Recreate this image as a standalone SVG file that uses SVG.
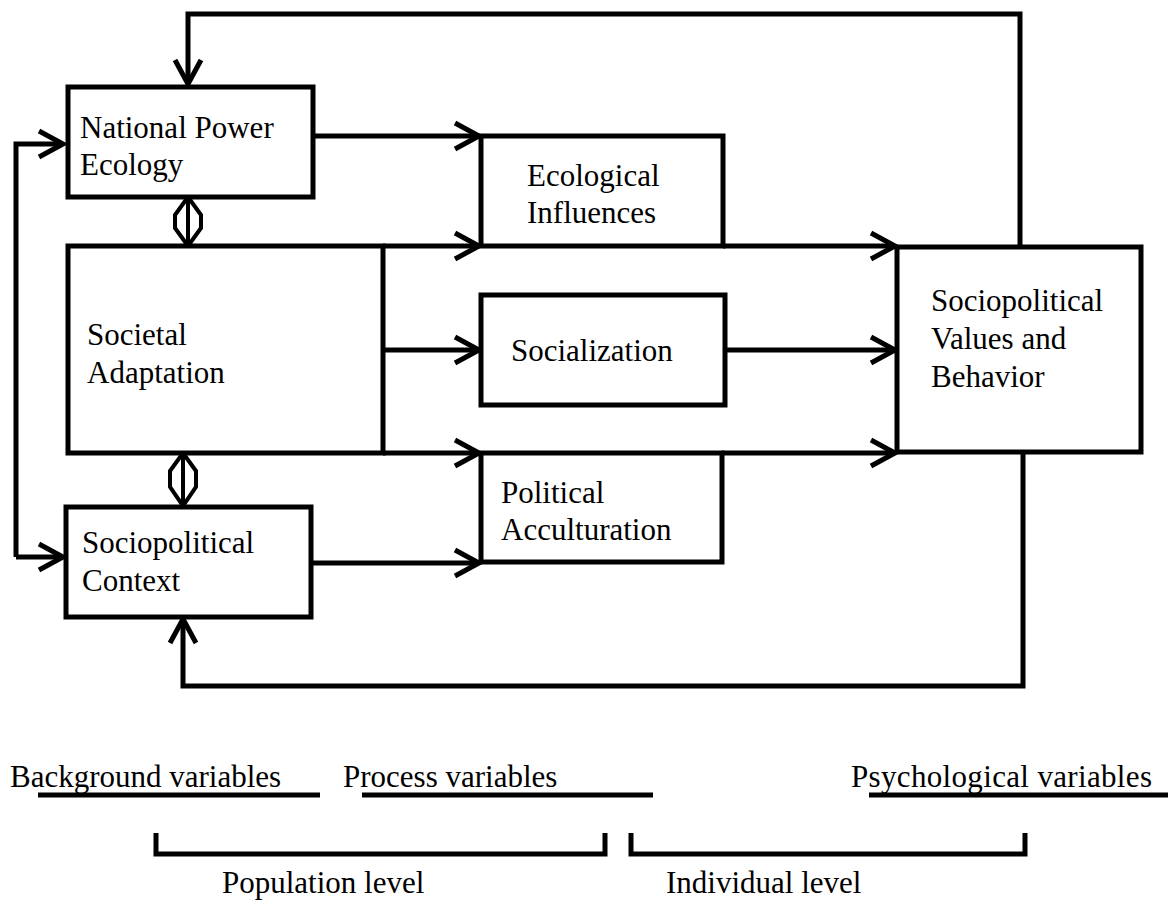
<svg xmlns="http://www.w3.org/2000/svg" width="1168" height="903" viewBox="0 0 1168 903">
<style>
.box{fill:#fff;stroke:#000;stroke-width:5}
.ln{fill:none;stroke:#000;stroke-width:5;stroke-linejoin:miter}
.arr{marker-end:url(#ah)}
.t{font-family:"Liberation Serif","Times New Roman",serif;font-size:31px;fill:#000}
.dbl{fill:none;stroke:#000;stroke-width:4;stroke-linejoin:miter}
</style>
<defs>
<marker id="ah" markerUnits="userSpaceOnUse" markerWidth="40" markerHeight="40" viewBox="-30 -20 40 40" refX="0" refY="0" orient="auto">
<path d="M-24 -13 L0 0 L-24 13" fill="none" stroke="#000" stroke-width="5"/>
</marker>
</defs>

<g id="connectors">
<!-- top feedback loop -->
<polyline class="ln arr" points="1020,247 1020,14 188,14 188,84"/>
<!-- bottom feedback loop -->
<polyline class="ln arr" points="1023,452 1023,686 183,686 183,619"/>
<!-- left loop -->
<polyline class="ln arr" points="16,557 16,144 63,144"/>
<polyline class="ln arr" points="16,557 63,557"/>
<!-- NPE to Ecological -->
<line class="ln arr" x1="313" y1="136" x2="479" y2="136"/>
<!-- Societal to process boxes -->
<line class="ln arr" x1="383" y1="246" x2="479" y2="246"/>
<line class="ln arr" x1="383" y1="350" x2="479" y2="350"/>
<line class="ln arr" x1="383" y1="453" x2="479" y2="453"/>
<!-- SC to PA -->
<line class="ln arr" x1="311" y1="563" x2="479" y2="563"/>
<!-- process to SV -->
<line class="ln arr" x1="723" y1="246" x2="895" y2="246"/>
<line class="ln arr" x1="725" y1="350" x2="895" y2="350"/>
<line class="ln arr" x1="722" y1="453" x2="895" y2="453"/>
<!-- double arrows -->
<path class="dbl" d="M188 197 L175 215 L175 228 L188 246 L201 228 L201 215 Z M188 197 V246"/>
<path class="dbl" d="M183 453 L170 471 L170 487 L183 506 L196 487 L196 471 Z M183 453 V506"/>
</g>

<g id="npe">
<rect class="box" x="68" y="87" width="245" height="110"/>
<text class="t" x="80" y="138">National Power</text>
<text class="t" x="80" y="175">Ecology</text>
</g>

<g id="societal">
<rect class="box" x="68" y="246" width="315" height="207"/>
<text class="t" x="87" y="345">Societal</text>
<text class="t" x="87" y="383">Adaptation</text>
</g>

<g id="sociopolitical-context">
<rect class="box" x="66" y="507" width="245" height="110"/>
<text class="t" x="82" y="553">Sociopolitical</text>
<text class="t" x="82" y="591">Context</text>
</g>

<g id="ecological">
<rect class="box" x="481" y="136" width="242" height="110"/>
<text class="t" x="527" y="186">Ecological</text>
<text class="t" x="527" y="223">Influences</text>
</g>

<g id="socialization">
<rect class="box" x="481" y="295" width="244" height="110"/>
<text class="t" x="511" y="361">Socialization</text>
</g>

<g id="political">
<rect class="box" x="481" y="453" width="241" height="109"/>
<text class="t" x="501" y="503">Political</text>
<text class="t" x="501" y="540">Acculturation</text>
</g>

<g id="values">
<rect class="box" x="897" y="247" width="244" height="205"/>
<text class="t" x="931" y="311">Sociopolitical</text>
<text class="t" x="931" y="349">Values and</text>
<text class="t" x="931" y="387">Behavior</text>
</g>

<g id="legend">
<text class="t" x="10" y="787">Background variables</text>
<line class="ln" x1="38" y1="795" x2="320" y2="795"/>
<text class="t" x="343" y="787">Process variables</text>
<line class="ln" x1="362" y1="795" x2="653" y2="795"/>
<text class="t" x="851" y="787" textLength="301" lengthAdjust="spacing">Psychological variables</text>
<line class="ln" x1="869" y1="795" x2="1168" y2="795"/>
<polyline class="ln" points="156,833 156,854 605,854 605,833"/>
<polyline class="ln" points="631,833 631,854 1025,854 1025,833"/>
<text class="t" x="222" y="893">Population level</text>
<text class="t" x="666" y="893">Individual level</text>
</g>
</svg>
